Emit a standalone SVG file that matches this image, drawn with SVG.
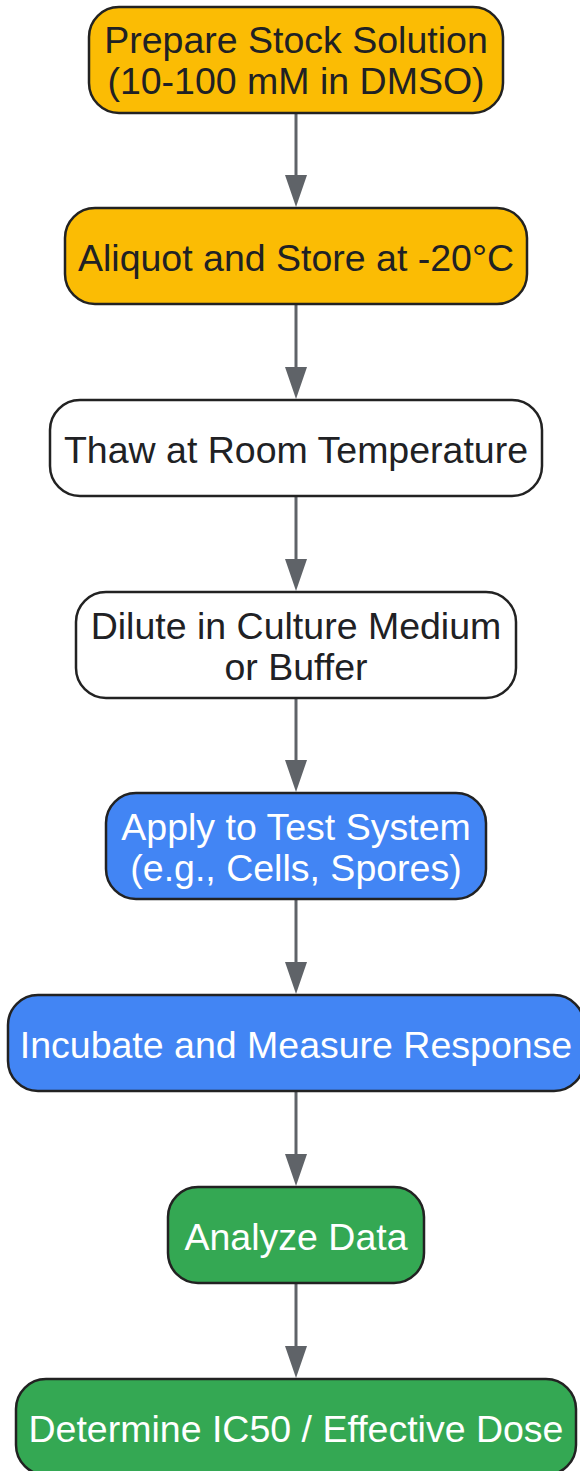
<svg xmlns="http://www.w3.org/2000/svg" width="580" height="1471" viewBox="0 0 580 1471">
<style>
.box{stroke:#222;stroke-width:2.5}
.y{fill:#FBBC04}.w{fill:#FFFFFF}.b{fill:#4285F4}.g{fill:#34A853}
text{font-family:"Liberation Sans",Arial,sans-serif;font-size:37.5px;text-anchor:middle}
.dk{fill:#202124}.lt{fill:#FFFFFF}
.edge{stroke:#5F6368;stroke-width:3;fill:none}
.head{fill:#5F6368}
</style>
<g id="connectors">
<line class="edge" x1="296" y1="113" x2="296" y2="176"/><path class="head" d="M285,175 L307,175 L296,207 Z"/>
<line class="edge" x1="296" y1="304" x2="296" y2="368"/><path class="head" d="M285,367 L307,367 L296,399 Z"/>
<line class="edge" x1="296" y1="496" x2="296" y2="560"/><path class="head" d="M285,559 L307,559 L296,591 Z"/>
<line class="edge" x1="296" y1="698" x2="296" y2="761"/><path class="head" d="M285,760 L307,760 L296,792 Z"/>
<line class="edge" x1="296" y1="899" x2="296" y2="963"/><path class="head" d="M285,962 L307,962 L296,994 Z"/>
<line class="edge" x1="296" y1="1091" x2="296" y2="1155"/><path class="head" d="M285,1154 L307,1154 L296,1186 Z"/>
<line class="edge" x1="296" y1="1283" x2="296" y2="1347"/><path class="head" d="M285,1346 L307,1346 L296,1378 Z"/>
</g>
<g id="n1"><rect class="box y" x="89" y="7" width="414" height="106" rx="30"/><text class="dk" x="296" y="53">Prepare Stock Solution</text><text class="dk" x="296" y="94">(10-100 mM in DMSO)</text></g>
<g id="n2"><rect class="box y" x="65" y="208" width="462" height="96" rx="30"/><text class="dk" x="296" y="271">Aliquot and Store at -20°C</text></g>
<g id="n3"><rect class="box w" x="50" y="400" width="492" height="96" rx="30"/><text class="dk" x="296" y="463">Thaw at Room Temperature</text></g>
<g id="n4"><rect class="box w" x="76" y="592" width="440" height="106" rx="30"/><text class="dk" x="296" y="639">Dilute in Culture Medium</text><text class="dk" x="296" y="680">or Buffer</text></g>
<g id="n5"><rect class="box b" x="106" y="793" width="380" height="106" rx="30"/><text class="lt" x="296" y="840">Apply to Test System</text><text class="lt" x="296" y="881">(e.g., Cells, Spores)</text></g>
<g id="n6"><rect class="box b" x="8" y="995" width="576" height="96" rx="30"/><text class="lt" x="296" y="1058">Incubate and Measure Response</text></g>
<g id="n7"><rect class="box g" x="168" y="1187" width="256" height="96" rx="30"/><text class="lt" x="296" y="1250">Analyze Data</text></g>
<g id="n8"><rect class="box g" x="16" y="1379" width="560" height="96" rx="30"/><text class="lt" x="296" y="1442">Determine IC50 / Effective Dose</text></g>
</svg>
